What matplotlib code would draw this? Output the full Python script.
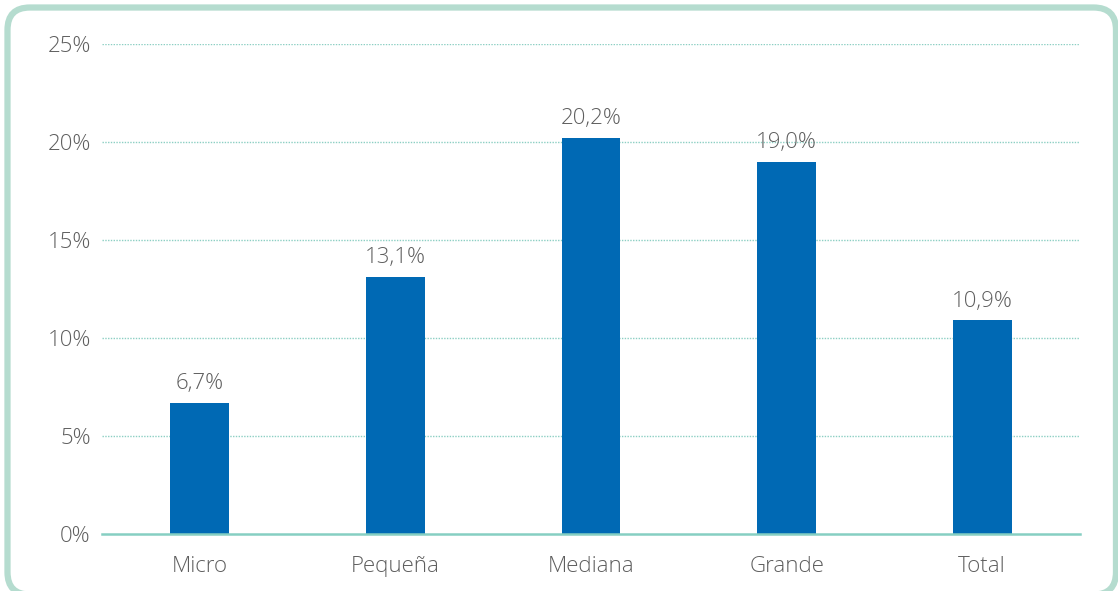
import matplotlib
matplotlib.use('Agg')
import matplotlib.pyplot as plt
from matplotlib.patches import FancyBboxPatch

categories = ['Micro', 'Pequeña', 'Mediana', 'Grande', 'Total']
values = [6.7, 13.1, 20.2, 19.0, 10.9]
yticks = [0, 5, 10, 15, 20, 25]

plt.rcParams['font.family'] = ['Open Sans', 'DejaVu Sans']
text_color = '#5e5e5e'
grid_color = '#8ccfc3'

fig = plt.figure(figsize=(11.18, 5.91), dpi=100)

# rounded border (bottom edge sits just below the image)
border = FancyBboxPatch((0.0067, -0.006), 0.9915, 0.9933,
                        boxstyle='round,pad=0,rounding_size=0.02',
                        transform=fig.transFigure, fill=False,
                        edgecolor='#b5dccf', linewidth=4.5,
                        mutation_aspect=1118/591)
fig.patches.append(border)

ax = fig.add_axes([0.0912, 0.0964, 0.8748, 0.8291])
x = range(len(categories))
ax.bar(x, values, width=0.30, color='#0069b4', zorder=3)

for xi, v in zip(x, values):
    ax.text(xi, v + 0.45, f'{v:.1f}%'.replace('.', ','), ha='center', va='bottom',
            fontsize=16, color=text_color, fontweight='light')

ax.set_xlim(-0.5, 4.5)
ax.set_ylim(0, 25)
ax.set_yticks(yticks)
ax.set_yticklabels([f'{t}%' for t in yticks], fontweight='light')
ax.set_xticks(list(x))
ax.set_xticklabels(categories, fontweight='light')
ax.tick_params(axis='both', length=0, labelsize=16, labelcolor=text_color)
ax.tick_params(axis='y', pad=8)
ax.tick_params(axis='x', pad=16)

for t in yticks[1:]:
    ax.axhline(t, color=grid_color, linestyle=(0, (1, 1)), linewidth=1, zorder=1)
ax.axhline(0, color='#86cfc2', linewidth=1.8, zorder=4, clip_on=False)

for s in ax.spines.values():
    s.set_visible(False)

fig.savefig('out.png', dpi=100)
